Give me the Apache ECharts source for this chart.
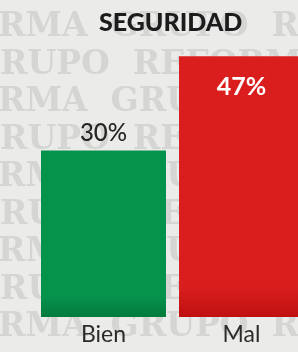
<!DOCTYPE html>
<html>
<head>
<meta charset="utf-8">
<script src="https://cdn.jsdelivr.net/npm/echarts@6/dist/echarts.min.js"></script>
<style>
  html, body { margin: 0; padding: 0; background: #ebebe9; }
  #chart { width: 298px; height: 352px; }
</style>
</head>
<body>
<div id="chart"></div>
<script>
var categories = ['Bien', 'Mal'];
var values = [30, 47];
var barColors = [['#05924b', '#047a3c'], ['#da1e1e', '#bf1010']];
var title = 'SEGURIDAD';

// watermark rows behind the chart
var watermark = [];
for (var i = 0; i < 9; i++) {
  watermark.push({
    type: 'text',
    z: -10,
    left: i % 2 ? 0 : -2,
    top: 28 + 37.5 * i - 17,
    style: {
      text: i % 2 ? 'RUPO  REFORMA  GRUPO' : 'RMA  GRUPO  REFORMA',
      font: 'bold 33px "DejaVu Serif"',
      fill: '#d5d5d3'
    }
  });
}

var myChart = echarts.init(document.getElementById('chart'));

option = {
  backgroundColor: '#ebebe9',
  animation: false,
  title: {
    text: title,
    left: 94,
    top: 5,
    textStyle: {
      fontFamily: 'Lato',
      fontWeight: 900,
      fontSize: 25,
      color: '#1c1c1c'
    }
  },
  graphic: watermark,
  grid: {
    left: 34.5,
    width: 276,
    top: 39.5,
    bottom: 35,
    outerBoundsMode: 'none'
  },
  xAxis: {
    type: 'category',
    data: categories,
    axisLine: { show: false },
    axisTick: { show: false },
    axisLabel: {
      margin: 6,
      fontFamily: 'Lato',
      fontSize: 23,
      color: '#2b2b2b'
    }
  },
  yAxis: {
    type: 'value',
    min: 0,
    max: 50,
    show: false,
    splitLine: { show: false }
  },
  series: [
    {
      type: 'bar',
      barWidth: 125,
      data: values.map(function (v, i) {
        return {
          value: v,
          itemStyle: {
            color: new echarts.graphic.LinearGradient(0, 0, 0, 1, [
              { offset: 0, color: barColors[i][0] },
              { offset: 0.88, color: barColors[i][0] },
              { offset: 1, color: barColors[i][1] }
            ])
          },
          label: i === 0 ? {
            position: 'top',
            distance: 5,
            color: '#262626',
            fontSize: 24,
            fontWeight: 500
          } : {
            position: 'insideTop',
            distance: 18,
            color: '#ffffff',
            fontSize: 25,
            fontWeight: 'bold'
          }
        };
      }),
      label: {
        show: true,
        fontFamily: 'Lato',
        formatter: '{c}%'
      }
    }
  ]
};

myChart.setOption(option);
</script>
</body>
</html>
